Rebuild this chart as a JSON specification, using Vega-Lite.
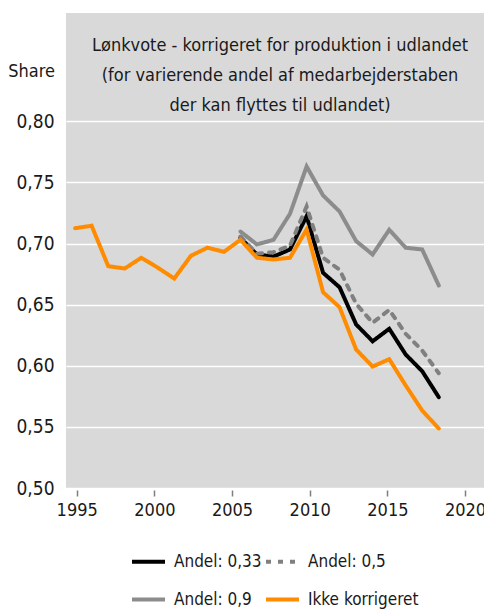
{
  "$schema": "https://vega.github.io/schema/vega-lite/v6.json",
  "width": 418,
  "height": 475,
  "autosize": {"type": "none"},
  "padding": {"left": 66, "top": 13, "right": 0, "bottom": 122},
  "background": "white",
  "config": {
    "font": "DejaVu Sans Condensed, DejaVu Sans, Roboto",
    "view": {"fill": "#d9d9d9", "stroke": null}
  },
  "layer": [
    {
      "data": {
        "values": [
          {"year": 2005.54, "series": "Andel: 0,9", "value": 0.7099},
          {"year": 2006.60, "series": "Andel: 0,9", "value": 0.6993},
          {"year": 2007.67, "series": "Andel: 0,9", "value": 0.7031},
          {"year": 2008.73, "series": "Andel: 0,9", "value": 0.7244},
          {"year": 2009.80, "series": "Andel: 0,9", "value": 0.7631},
          {"year": 2010.86, "series": "Andel: 0,9", "value": 0.7394},
          {"year": 2011.92, "series": "Andel: 0,9", "value": 0.7263},
          {"year": 2012.99, "series": "Andel: 0,9", "value": 0.7020},
          {"year": 2014.05, "series": "Andel: 0,9", "value": 0.6911},
          {"year": 2015.12, "series": "Andel: 0,9", "value": 0.7113},
          {"year": 2016.18, "series": "Andel: 0,9", "value": 0.6966},
          {"year": 2017.24, "series": "Andel: 0,9", "value": 0.6952},
          {"year": 2018.31, "series": "Andel: 0,9", "value": 0.6657},
          {"year": 2005.54, "series": "Andel: 0,33", "value": 0.7047},
          {"year": 2006.60, "series": "Andel: 0,33", "value": 0.6911},
          {"year": 2007.67, "series": "Andel: 0,33", "value": 0.6894},
          {"year": 2008.73, "series": "Andel: 0,33", "value": 0.6952},
          {"year": 2009.80, "series": "Andel: 0,33", "value": 0.7224},
          {"year": 2010.86, "series": "Andel: 0,33", "value": 0.6761},
          {"year": 2011.92, "series": "Andel: 0,33", "value": 0.6643},
          {"year": 2012.99, "series": "Andel: 0,33", "value": 0.6338},
          {"year": 2014.05, "series": "Andel: 0,33", "value": 0.6201},
          {"year": 2015.12, "series": "Andel: 0,33", "value": 0.6303},
          {"year": 2016.18, "series": "Andel: 0,33", "value": 0.6092},
          {"year": 2017.24, "series": "Andel: 0,33", "value": 0.5956},
          {"year": 2018.31, "series": "Andel: 0,33", "value": 0.5743},
          {"year": 2005.54, "series": "Andel: 0,5", "value": 0.7058},
          {"year": 2006.60, "series": "Andel: 0,5", "value": 0.6917},
          {"year": 2007.67, "series": "Andel: 0,5", "value": 0.6930},
          {"year": 2008.73, "series": "Andel: 0,5", "value": 0.6984},
          {"year": 2009.80, "series": "Andel: 0,5", "value": 0.7303},
          {"year": 2010.86, "series": "Andel: 0,5", "value": 0.6884},
          {"year": 2011.92, "series": "Andel: 0,5", "value": 0.6786},
          {"year": 2012.99, "series": "Andel: 0,5", "value": 0.6507},
          {"year": 2014.05, "series": "Andel: 0,5", "value": 0.6352},
          {"year": 2015.12, "series": "Andel: 0,5", "value": 0.6458},
          {"year": 2016.18, "series": "Andel: 0,5", "value": 0.6262},
          {"year": 2017.24, "series": "Andel: 0,5", "value": 0.6125},
          {"year": 2018.31, "series": "Andel: 0,5", "value": 0.5939},
          {"year": 1994.90, "series": "Ikke korrigeret", "value": 0.7126},
          {"year": 1995.96, "series": "Ikke korrigeret", "value": 0.7146},
          {"year": 1997.03, "series": "Ikke korrigeret", "value": 0.6815},
          {"year": 1998.09, "series": "Ikke korrigeret", "value": 0.6796},
          {"year": 1999.16, "series": "Ikke korrigeret", "value": 0.6884},
          {"year": 2000.22, "series": "Ikke korrigeret", "value": 0.6803},
          {"year": 2001.28, "series": "Ikke korrigeret", "value": 0.6714},
          {"year": 2002.35, "series": "Ikke korrigeret", "value": 0.6900},
          {"year": 2003.41, "series": "Ikke korrigeret", "value": 0.6966},
          {"year": 2004.48, "series": "Ikke korrigeret", "value": 0.6933},
          {"year": 2005.54, "series": "Ikke korrigeret", "value": 0.7031},
          {"year": 2006.60, "series": "Ikke korrigeret", "value": 0.6884},
          {"year": 2007.67, "series": "Ikke korrigeret", "value": 0.6870},
          {"year": 2008.73, "series": "Ikke korrigeret", "value": 0.6884},
          {"year": 2009.80, "series": "Ikke korrigeret", "value": 0.7115},
          {"year": 2010.86, "series": "Ikke korrigeret", "value": 0.6602},
          {"year": 2011.92, "series": "Ikke korrigeret", "value": 0.6480},
          {"year": 2012.99, "series": "Ikke korrigeret", "value": 0.6133},
          {"year": 2014.05, "series": "Ikke korrigeret", "value": 0.5994},
          {"year": 2015.12, "series": "Ikke korrigeret", "value": 0.6054},
          {"year": 2016.18, "series": "Ikke korrigeret", "value": 0.5839},
          {"year": 2017.24, "series": "Ikke korrigeret", "value": 0.5634},
          {"year": 2018.31, "series": "Ikke korrigeret", "value": 0.5487}
        ]
      },
      "mark": {"type": "line", "strokeWidth": 4, "strokeCap": "round", "strokeJoin": "miter", "clip": true},
      "encoding": {
        "x": {
          "field": "year",
          "type": "quantitative",
          "scale": {"domain": [1994.31, 2021.22], "nice": false, "zero": false},
          "axis": {
            "title": null,
            "values": [1995, 2000, 2005, 2010, 2015, 2020],
            "format": "d",
            "grid": false,
            "domain": false,
            "ticks": true,
            "tickSize": 6,
            "tickColor": "#7f7f7f",
            "tickWidth": 1.5,
            "offset": 2,
            "labelFontSize": 18,
            "labelColor": "#1a1a1a",
            "labelPadding": 5,
            "labelFlush": false
          }
        },
        "y": {
          "field": "value",
          "type": "quantitative",
          "scale": {"domain": [0.5, 0.8887], "nice": false, "zero": false},
          "axis": {
            "title": "Share",
            "titleAngle": 0,
            "titleAlign": "center",
            "titleBaseline": "middle",
            "titleX": -35,
            "titleY": 58,
            "titleFontSize": 18,
            "titleFontWeight": "normal",
            "titleColor": "#1a1a1a",
            "values": [0.5, 0.55, 0.6, 0.65, 0.7, 0.75, 0.8],
            "labelExpr": "replace(format(datum.value, '.2f'), '.', ',')",
            "grid": true,
            "gridColor": "white",
            "gridWidth": 1.5,
            "domain": false,
            "ticks": false,
            "labelPadding": 12,
            "labelFontSize": 19,
            "labelColor": "#1a1a1a"
          }
        },
        "color": {
          "field": "series",
          "type": "nominal",
          "sort": ["Andel: 0,33", "Andel: 0,5", "Andel: 0,9", "Ikke korrigeret"],
          "scale": {
            "domain": ["Andel: 0,33", "Andel: 0,5", "Andel: 0,9", "Ikke korrigeret"],
            "range": ["#000000", "#808080", "#8c8c8c", "#ff8c00"]
          },
          "legend": {
            "title": null,
            "orient": "none",
            "legendX": 64,
            "legendY": 530,
            "columns": 2,
            "direction": "horizontal",
            "symbolType": "stroke",
            "symbolSize": 1089,
            "symbolStrokeWidth": 4,
            "labelFontSize": 17,
            "labelColor": "#1a1a1a",
            "labelOffset": 7,
            "columnPadding": -4,
            "rowPadding": 11,
            "labelLimit": 300
          }
        },
        "strokeDash": {
          "field": "series",
          "type": "nominal",
          "sort": ["Andel: 0,33", "Andel: 0,5", "Andel: 0,9", "Ikke korrigeret"],
          "scale": {
            "domain": ["Andel: 0,33", "Andel: 0,5", "Andel: 0,9", "Ikke korrigeret"],
            "range": [[1, 0], [5, 7], [1, 0], [1, 0]]
          },
          "legend": null
        }
      }
    },
    {
      "data": {
        "values": [
          {"label": "Lønkvote - korrigeret for produktion i udlandet\n(for varierende andel af medarbejderstaben\nder kan flyttes til udlandet)", "xpos": 2008.09, "ypos": 0.858}
        ]
      },
      "mark": {
        "type": "text",
        "align": "center",
        "baseline": "alphabetic",
        "fontSize": 18,
        "lineHeight": 30,
        "lineBreak": "\n",
        "color": "#1a1a1a"
      },
      "encoding": {
        "x": {"field": "xpos", "type": "quantitative"},
        "y": {"field": "ypos", "type": "quantitative"},
        "text": {"field": "label"}
      }
    }
  ]
}
